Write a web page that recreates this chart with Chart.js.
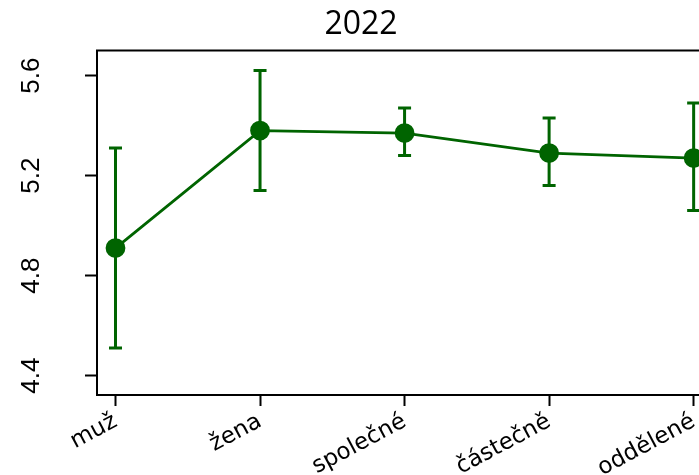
<!DOCTYPE html>
<html>
<head>
<meta charset="utf-8">
<script src="https://cdn.jsdelivr.net/npm/chart.js@4.4.1/dist/chart.umd.min.js"></script>
<style>
  html, body { margin: 0; padding: 0; background: #fff; overflow: hidden; }
  canvas { display: block; }
</style>
</head>
<body>
<canvas id="chart" width="722" height="475"></canvas>
<script>
// data
const categories = ['muž', 'žena', 'společné', 'částečně', 'oddělené'];
const means = [4.91, 5.38, 5.37, 5.29, 5.27];
const lower = [4.51, 5.14, 5.28, 5.16, 5.06];
const upper = [5.31, 5.62, 5.47, 5.43, 5.49];
const yTicks = [4.4, 4.8, 5.2, 5.6];

const green = 'rgb(0, 100, 0)';

// error bars + top frame line
const errorBars = {
    id: 'errorBars',
    beforeDatasetsDraw(chart) {
        const ctx = chart.ctx;
        const xs = chart.scales.x;
        const ys = chart.scales.y;
        ctx.save();
        ctx.strokeStyle = green;
        ctx.lineWidth = 3;
        categories.forEach((c, i) => {
            const px = xs.getPixelForValue(i + 1);
            const top = ys.getPixelForValue(upper[i]);
            const bot = ys.getPixelForValue(lower[i]);
            ctx.beginPath();
            ctx.moveTo(px, top);
            ctx.lineTo(px, bot);
            ctx.moveTo(px - 6.5, top);
            ctx.lineTo(px + 6.5, top);
            ctx.moveTo(px - 6.5, bot);
            ctx.lineTo(px + 6.5, bot);
            ctx.stroke();
        });
        ctx.restore();
    },
    afterDraw(chart) {
        const ctx = chart.ctx;
        const a = chart.chartArea;
        ctx.save();
        ctx.strokeStyle = '#000';
        ctx.lineWidth = 2;
        ctx.beginPath();
        ctx.moveTo(a.left - 1, a.top);
        ctx.lineTo(a.right, a.top);
        ctx.stroke();
        ctx.restore();
    }
};

new Chart(document.getElementById('chart'), {
    type: 'line',
    data: {
        datasets: [{
            data: means.map((v, i) => ({ x: i + 1, y: v })),
            borderColor: green,
            backgroundColor: green,
            borderWidth: 2.8,
            pointRadius: 8.5,
            pointHoverRadius: 8.5,
            tension: 0
        }]
    },
    options: {
        responsive: false,
        animation: false,
        layout: { padding: 0 },
        plugins: {
            legend: { display: false },
            tooltip: { enabled: false },
            title: {
                display: true,
                text: '2022',
                color: '#000',
                font: { family: "'Open Sans', sans-serif", size: 32, weight: 'normal' },
                padding: { top: 5, bottom: 7 }
            }
        },
        scales: {
            x: {
                type: 'linear',
                min: 0.872,
                max: 5.118,
                afterBuildTicks: (s) => { s.ticks = categories.map((c, i) => ({ value: i + 1 })); },
                afterFit: (s) => { s.height = 80; },
                grid: { drawOnChartArea: false, tickLength: 11, color: '#000', tickWidth: 2 },
                border: { color: '#000', width: 2 },
                ticks: {
                    color: '#000',
                    padding: 2,
                    minRotation: 28,
                    maxRotation: 28,
                    autoSkip: false,
                    font: { family: "'DejaVu Sans', sans-serif", size: 23 },
                    callback: (v) => categories[v - 1]
                }
            },
            y: {
                min: 4.3225,
                max: 5.70,
                afterBuildTicks: (s) => { s.ticks = yTicks.map(v => ({ value: v })); },
                afterFit: (s) => { s.width = 97; },
                grid: { drawOnChartArea: false, tickLength: 12, color: '#000', tickWidth: 2 },
                border: { color: '#000', width: 2 },
                ticks: {
                    color: '#000',
                    padding: 35,
                    minRotation: 90,
                    maxRotation: 90,
                    crossAlign: 'center',
                    font: { family: "'Liberation Sans', sans-serif", size: 26 },
                    callback: (v) => v.toFixed(1)
                }
            }
        }
    },
    plugins: [errorBars]
});
</script>
</body>
</html>
